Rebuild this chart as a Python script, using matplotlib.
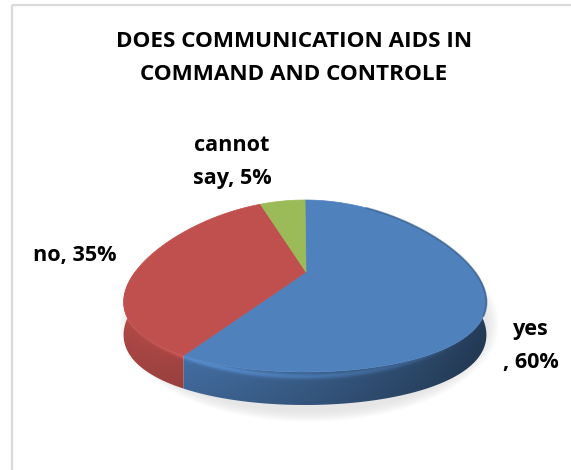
import numpy as np
import matplotlib
matplotlib.use("Agg")
import matplotlib.pyplot as plt
from matplotlib.colors import to_rgb
from matplotlib.patches import Polygon, Ellipse

# survey answers
labels = ["yes", "no", "cannot say"]
label_lines = ["yes\n", "no", "cannot\nsay"]
values = [60, 35, 5]
colors = ["#4F81BD", "#C0504D", "#9BBB59"]

title = "DOES COMMUNICATION AIDS IN\nCOMMAND AND CONTROLE"

plt.rcParams["font.family"] = ["Open Sans", "DejaVu Sans"]

W, H = 571, 470
fig = plt.figure(figsize=(W / 100, H / 100), dpi=100)
ax = fig.add_axes([0, 0, 1, 1])

# chart frame (only left and top edges are inside the picture)
ax.plot([12, 12], [H, 5], color="#d9d9d9", lw=1.6, solid_capstyle="butt")
ax.plot([12, W], [5, 5], color="#d9d9d9", lw=1.6, solid_capstyle="butt")

# pie geometry in pixels, with a little perspective (front wider than back)
cx, cy = 305, 286
a, b = 178, 86
depth = 33
persp = 0.2
apex = (306, 272)


def edge(theta_deg, dy=0.0):
    t = np.radians(theta_deg)
    x = cx + a * np.sin(t) * (1 - persp * np.cos(t))
    y = cy - b * np.cos(t) + dy
    return x, y


# soft shadow under the pie
for i in range(10):
    k = i / 9
    ax.add_patch(Ellipse((cx + 4, cy + depth + 5), 2 * (a + 12 - 12 * k), 2 * (b + 12 - 10 * k),
                         facecolor="#8c8c8c", edgecolor="none", alpha=0.02, zorder=1))

total = sum(values)
starts = np.cumsum([0] + values[:-1]) / total * 360
ends = np.cumsum(values) / total * 360

# shading field for the side wall
gx = np.arange(cx - a - 20, cx + a + 20, 1.0)
gy = np.arange(cy - 20, cy + b + depth + 10, 1.0)
GX, GY = np.meshgrid(gx + 0.5, gy + 0.5)
u = np.clip((GX - cx) / (a * 1.05), -1, 1)
ytop = cy + b * np.sqrt(1 - u ** 2)
r = np.clip((GY - ytop) / depth, 0, 1)
m_h = 0.95 - 0.48 * (u + 1) / 2
bevel = 0.30 * np.exp(-((r - 0.13) / 0.09) ** 2)
M = m_h * (1 + bevel) * (1 - 0.08 * r)

for s, e, col in zip(starts, ends, colors):
    lo, hi = max(s, 80), min(e, 280)
    if hi <= lo:
        continue
    th = np.linspace(lo, hi, int(hi - lo) * 2 + 2)
    xt, yt = edge(th)
    xb, yb = edge(th[::-1], depth)
    side = Polygon(list(zip(xt, yt)) + list(zip(xb, yb)), closed=True,
                   transform=ax.transData, facecolor="none", edgecolor="none")
    ax.add_patch(side)
    img = np.clip(np.array(to_rgb(col))[None, None, :] * M[:, :, None], 0, 1)
    im = ax.imshow(img, extent=(gx[0], gx[-1] + 1, gy[-1] + 1, gy[0]), origin="upper",
                   aspect="auto", interpolation="bilinear", zorder=2)
    im.set_clip_path(side)

# top face
for s, e, col in zip(starts, ends, colors):
    th = np.linspace(s, e, max(int(e - s) * 2, 4))
    xs, ys = edge(th)
    ax.add_patch(Polygon([apex] + list(zip(xs, ys)), closed=True,
                         facecolor=col, edgecolor=col, lw=0.5, zorder=4))

# darker rim on the right back edge
th = np.linspace(25, 110, 80)
xs, ys = edge(th)
ax.plot(xs, ys, color="#2c4d75", lw=1.5, alpha=0.45, zorder=5)

# title and data labels
ax.text(294, 58, title, ha="center", va="center", fontsize=16.2, fontweight="bold",
        linespacing=1.72, color="black", zorder=6)

label_pos = [(531, 346), (75, 256), (232, 162)]
for name, v, (lx, ly) in zip(label_lines, values, label_pos):
    ax.text(lx, ly, f"{name}, {v}%", ha="center", va="center", fontsize=15.6,
            fontweight="bold", linespacing=1.72, color="black", zorder=6)

ax.set_xlim(0, W)
ax.set_ylim(H, 0)
ax.axis("off")

fig.savefig("out.png", dpi=100, facecolor="white")
